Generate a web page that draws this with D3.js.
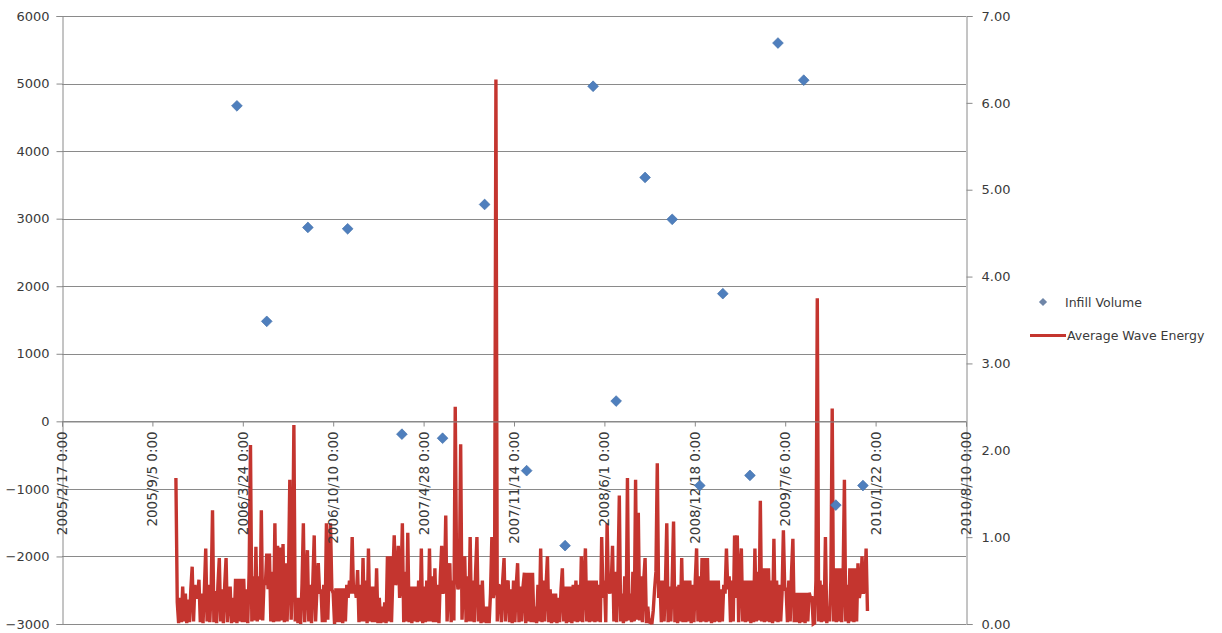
<!DOCTYPE html>
<html>
<head>
<meta charset="utf-8">
<script src="https://cdn.jsdelivr.net/npm/d3@7"></script>
<style>
  html, body { margin: 0; padding: 0; background: #ffffff; }
  svg { display: block; }
  text { font-family: "DejaVu Sans", "Liberation Sans", sans-serif; fill: #3a3a3a; }
</style>
</head>
<body>
<svg id="chart" width="1222" height="633"></svg>
<script>
// ---- data ----
// date axis ticks (every 200 days)
const xTickDates = ["2005-02-17","2005-09-05","2006-03-24","2006-10-10","2007-04-28",
  "2007-11-14","2008-06-01","2008-12-18","2009-07-06","2010-01-22","2010-08-10"];
const xTickLabels = ["2005/2/17 0:00","2005/9/5 0:00","2006/3/24 0:00","2006/10/10 0:00",
  "2007/4/28 0:00","2007/11/14 0:00","2008/6/1 0:00","2008/12/18 0:00","2009/7/6 0:00",
  "2010/1/22 0:00","2010/8/10 0:00"];
const leftTicks = [-3000,-2000,-1000,0,1000,2000,3000,4000,5000,6000];
const rightTicks = [0,1,2,3,4,5,6,7];

// Infill Volume survey points
const infillDates = ["2006-03-11","2006-05-16","2006-08-15","2006-11-11","2007-03-11",
  "2007-06-09","2007-09-10","2007-12-12","2008-03-06","2008-05-07","2008-06-27",
  "2008-08-30","2008-10-29","2008-12-29","2009-02-18","2009-04-19","2009-06-20",
  "2009-08-16","2009-10-26","2009-12-25"];
const infillVolume = [4670,1480,2870,2850,-190,-250,3210,-730,-1840,4960,300,
  3610,2990,-950,1890,-800,5600,5050,-1240,-950];

// Average Wave Energy, one reading every 3 days from the start date
const waveStart = "2005-10-27";
const waveStepDays = 3;
const waveEnergy = [
  1.68,0.25,0.01,0.30,0.02,0.43,0.03,0.35,0.01,0.28,
  0.02,0.40,0.66,0.03,0.45,0.30,0.32,0.51,0.02,0.35,
  0.01,0.40,0.87,0.03,0.45,0.02,0.40,1.31,0.02,0.38,
  0.01,0.45,0.76,0.03,0.40,0.01,0.45,0.76,0.02,0.33,
  0.43,0.01,0.30,0.02,0.52,0.01,0.52,0.03,0.52,0.02,
  0.52,0.02,0.40,0.01,0.60,2.06,0.03,0.55,0.04,0.89,
  0.03,0.55,0.05,1.31,0.04,0.50,0.45,0.81,0.40,0.81,
  0.03,0.60,0.02,1.16,0.03,0.90,0.03,0.88,0.04,0.92,
  0.02,0.70,0.03,0.55,1.66,0.05,0.60,2.29,0.03,0.30,
  0.01,0.30,0.00,0.45,1.16,0.02,0.50,0.85,0.03,0.45,
  0.01,0.50,1.02,0.03,0.40,0.70,0.35,0.40,0.02,0.45,
  0.02,1.16,0.05,0.60,1.16,0.40,0.35,0.00,0.41,0.02,
  0.41,0.02,0.41,0.01,0.41,0.03,0.45,0.30,0.50,0.35,
  1.00,0.35,0.45,0.30,0.62,0.02,0.45,0.03,0.76,0.03,
  0.50,0.01,0.87,0.03,0.43,0.02,0.43,0.02,0.64,0.01,
  0.30,0.01,0.20,0.02,0.25,0.01,0.78,0.03,0.78,0.02,
  0.55,1.02,0.45,0.50,0.90,0.30,0.45,1.16,0.02,0.60,
  0.03,1.05,0.02,0.43,0.01,0.43,0.03,0.43,0.02,0.50,
  0.03,0.87,0.01,0.43,0.02,0.50,0.03,0.87,0.03,0.55,
  0.02,0.64,0.02,0.45,0.01,0.55,0.90,0.35,0.40,1.25,
  0.03,0.45,0.70,0.02,0.50,0.04,2.50,0.60,0.40,0.45,
  2.07,0.05,0.50,0.78,0.02,0.55,0.03,1.00,0.03,0.50,
  0.02,0.60,1.00,0.03,0.45,0.01,0.50,0.02,0.20,0.01,
  0.20,0.01,0.35,1.00,0.30,0.40,6.27,0.03,0.45,0.43,
  0.02,0.50,0.76,0.03,0.45,0.50,0.02,0.40,0.01,0.50,
  0.02,0.45,0.70,0.02,0.43,0.03,0.43,0.59,0.01,0.59,
  0.03,0.59,0.02,0.59,0.02,0.20,0.01,0.45,0.03,0.87,
  0.02,0.50,0.03,0.45,0.78,0.02,0.40,0.01,0.35,0.02,
  0.35,0.01,0.30,0.02,0.40,0.64,0.03,0.43,0.01,0.43,
  0.02,0.43,0.01,0.45,0.03,0.50,0.02,0.45,0.03,0.78,
  0.02,0.50,0.87,0.03,0.50,0.02,0.50,0.03,0.50,0.02,
  0.50,0.03,0.45,0.02,1.00,0.30,0.50,0.02,1.16,0.40,
  0.35,0.45,0.90,0.03,0.60,0.02,0.55,1.48,0.03,0.35,
  0.01,0.55,0.03,1.68,0.04,0.35,0.02,0.60,0.03,1.66,
  0.05,1.28,0.04,0.55,0.02,0.50,0.76,0.01,0.20,0.01,
  0.03,0.00,0.15,0.40,0.60,1.85,0.30,0.50,0.02,0.50,
  0.03,0.45,1.16,0.02,0.43,0.03,0.50,1.18,0.02,0.43,
  0.01,0.45,0.03,0.76,0.02,0.50,0.02,0.50,0.03,0.50,
  0.01,0.45,0.02,0.50,0.87,0.03,0.55,0.02,0.76,0.03,
  0.76,0.02,0.76,0.03,0.50,0.01,0.50,0.02,0.50,0.03,
  0.50,0.02,0.40,0.03,0.45,0.35,0.87,0.40,0.55,0.02,
  0.50,0.03,1.02,0.30,1.02,0.02,0.60,0.87,0.03,0.50,
  0.02,0.50,0.03,0.50,0.01,0.50,0.02,0.87,0.03,0.60,
  0.04,1.42,0.03,0.64,0.02,0.64,0.03,0.64,0.02,0.50,
  0.01,0.98,0.03,0.50,0.02,0.45,0.03,0.35,1.08,0.40,
  0.40,0.02,0.50,0.03,0.60,0.98,0.02,0.36,0.02,0.36,
  0.01,0.36,0.02,0.36,0.01,0.36,0.03,0.36,0.30,0.32,
  0.00,0.01,0.50,3.75,0.03,0.50,0.02,0.45,0.03,1.00,
  0.01,0.20,0.03,0.50,2.48,0.03,0.64,0.02,0.64,0.03,
  0.64,0.02,0.50,1.66,0.03,0.45,0.01,0.64,0.03,0.64,
  0.02,0.64,0.03,0.70,0.30,0.40,0.78,0.35,0.40,0.87,
  0.15
];

// ---- layout ----
const svg = d3.select("#chart");
const plot = { left: 62, right: 966, top: 16, bottom: 624 };
const parse = d3.utcParse("%Y-%m-%d");

const x = d3.scaleUtc()
  .domain([parse(xTickDates[0]), parse(xTickDates[xTickDates.length - 1])])
  .range([plot.left, plot.right]);
const yL = d3.scaleLinear().domain([-3000, 6000]).range([plot.bottom, plot.top]);
const yR = d3.scaleLinear().domain([0, 7]).range([plot.bottom, plot.top]);

const gridColor = "#8a8a8a";
const axisColor = "#8a8a8a";
const lineColor = "#c4352f";

// horizontal gridlines from the primary axis
svg.append("g")
  .selectAll("line")
  .data(leftTicks)
  .join("line")
  .attr("x1", plot.left).attr("x2", plot.right)
  .attr("y1", d => Math.round(yL(d)) + 0.5).attr("y2", d => Math.round(yL(d)) + 0.5)
  .attr("stroke", gridColor).attr("stroke-width", 1.2);

// primary (left) axis
const leftAxis = svg.append("g")
  .attr("transform", `translate(${plot.left + 0.5},0)`)
  .call(d3.axisLeft(yL).tickValues(leftTicks).tickSize(6).tickPadding(7).tickFormat(d3.format("d")));
leftAxis.select(".domain").attr("stroke", axisColor);
leftAxis.selectAll(".tick line").attr("stroke", axisColor);
leftAxis.selectAll("text").style("font-size", "13px").attr("fill", "#3a3a3a");

// secondary (right) axis
const rightAxis = svg.append("g")
  .attr("transform", `translate(${plot.right + 0.5},0)`)
  .call(d3.axisRight(yR).tickValues(rightTicks).tickSize(6).tickPadding(9).tickFormat(d3.format(".2f")));
rightAxis.select(".domain").attr("stroke", axisColor);
rightAxis.selectAll(".tick line").attr("stroke", axisColor);
rightAxis.selectAll("text").style("font-size", "13px").attr("fill", "#3a3a3a");

// wave energy line (secondary axis)
const waveT0 = parse(waveStart);
const waveData = waveEnergy.map((v, i) => ({ date: d3.utcDay.offset(waveT0, i * waveStepDays), v }));
const waveLine = d3.line().x(d => x(d.date)).y(d => yR(d.v));
svg.append("path")
  .datum(waveData)
  .attr("fill", "none")
  .attr("stroke", lineColor)
  .attr("stroke-width", 3.4)
  .attr("stroke-linejoin", "miter")
  .attr("stroke-miterlimit", 2)
  .attr("d", waveLine);

// date axis crossing at zero on the primary axis
const xAxis = svg.append("g")
  .attr("transform", `translate(0,${Math.round(yL(0)) + 0.5})`)
  .call(d3.axisBottom(x).tickValues(xTickDates.map(parse)).tickSize(5).tickFormat(""));
xAxis.select(".domain").attr("stroke", axisColor);
xAxis.selectAll(".tick line").attr("stroke", axisColor);

svg.append("g")
  .selectAll("text")
  .data(xTickDates)
  .join("text")
  .attr("transform", d => `translate(${x(parse(d)) + 5},${yL(0) + 10}) rotate(-90)`)
  .attr("text-anchor", "end")
  .style("font-size", "13.5px")
  .text((d, i) => xTickLabels[i]);

// infill volume markers (primary axis)
const diamond = d3.symbol().type(d3.symbolSquare).size(58);
svg.append("g")
  .selectAll("path")
  .data(infillDates.map((d, i) => ({ date: parse(d), v: infillVolume[i] })))
  .join("path")
  .attr("d", diamond)
  .attr("transform", d => `translate(${x(d.date)},${yL(d.v)}) rotate(45)`)
  .attr("fill", "#4f7fbd")
  .attr("stroke", "#3f6ea8")
  .attr("stroke-width", 0.6);

// legend
const legend = svg.append("g");
legend.append("path")
  .attr("d", d3.symbol().type(d3.symbolSquare).size(34))
  .attr("transform", "translate(1043,302) rotate(45)")
  .attr("fill", "#6f86a8");
legend.append("text")
  .attr("x", 1065).attr("y", 307)
  .style("font-size", "12.5px")
  .text("Infill Volume");
legend.append("line")
  .attr("x1", 1030).attr("x2", 1066)
  .attr("y1", 335.5).attr("y2", 335.5)
  .attr("stroke", lineColor).attr("stroke-width", 3);
legend.append("text")
  .attr("x", 1067).attr("y", 340)
  .style("font-size", "12.5px")
  .text("Average Wave Energy");
</script>
</body>
</html>
